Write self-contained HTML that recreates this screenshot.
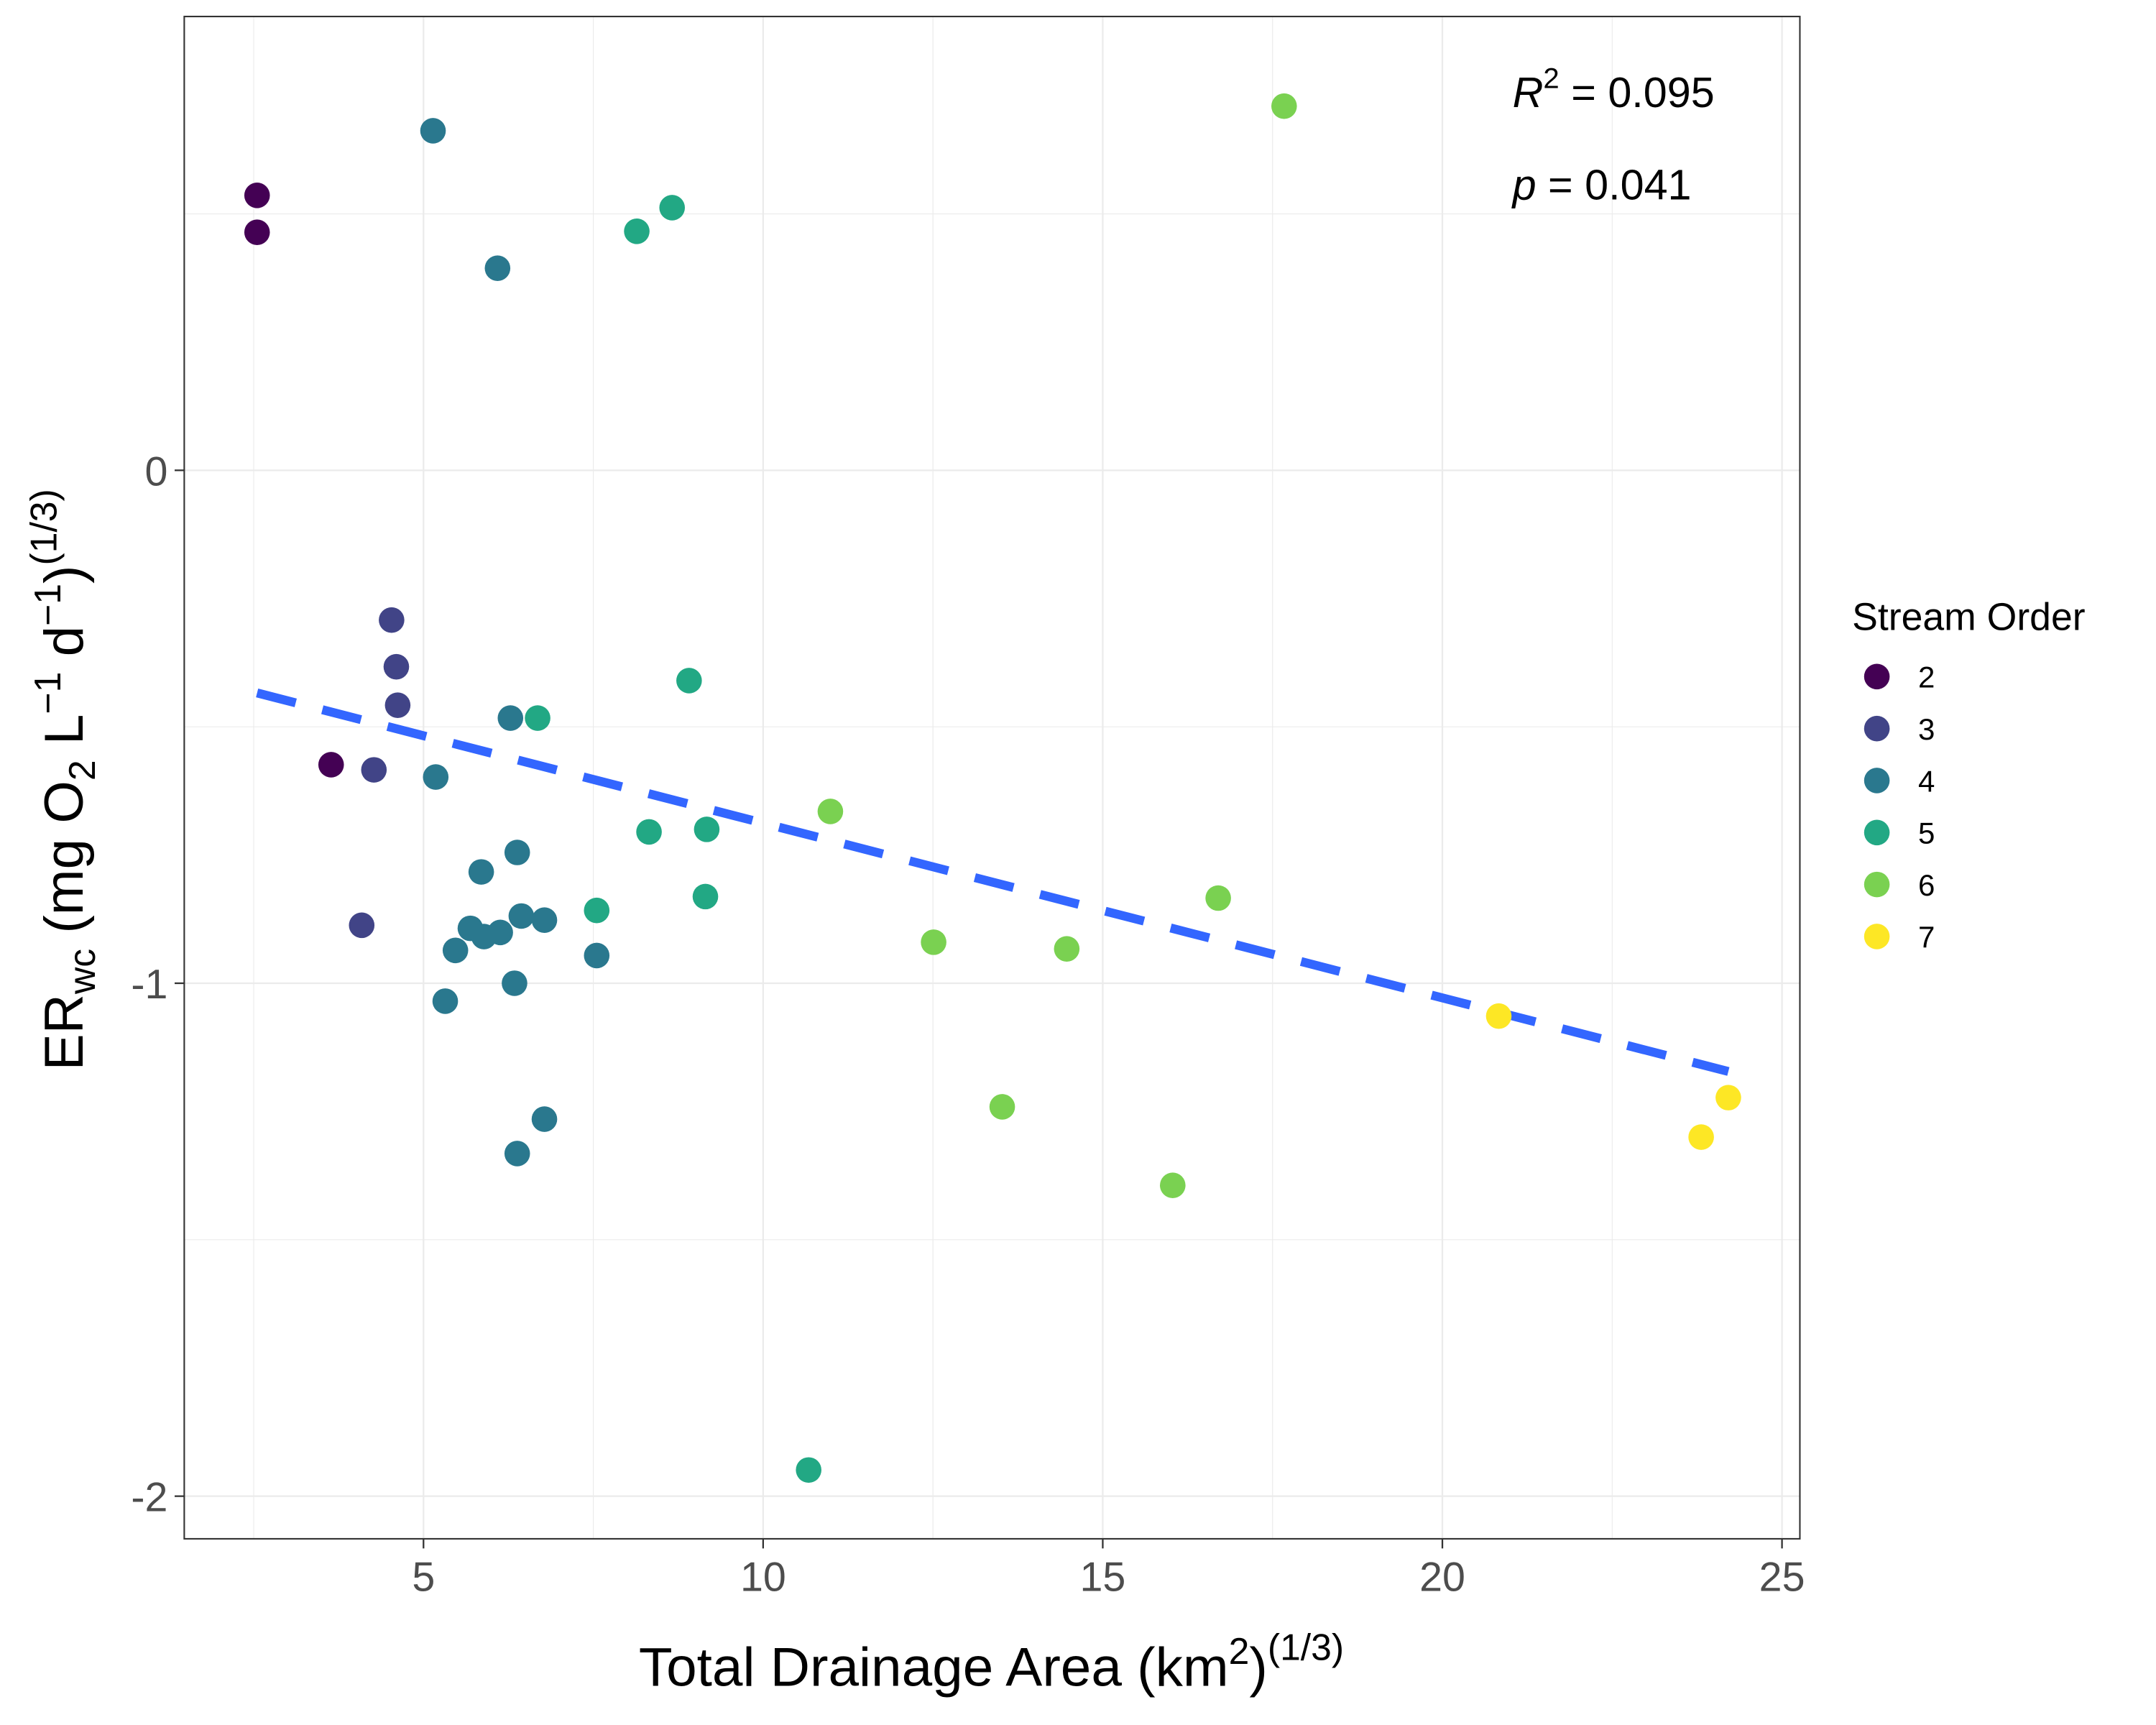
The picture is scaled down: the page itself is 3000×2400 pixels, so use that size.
<!DOCTYPE html>
<html><head><meta charset="utf-8"><style>html,body{margin:0;padding:0;background:#fff}svg{display:block}</style></head>
<body>
<svg id="chart" width="3000" height="2400" viewBox="0 0 1568 1254.4" xmlns="http://www.w3.org/2000/svg" font-family="'Liberation Sans', sans-serif">
<rect width="1568" height="1255" fill="#fff"/>
<g id="grid"></g>
<g id="fit"></g>
<g id="pts"></g>
<rect x="134" y="12" width="1175" height="1107" fill="none" stroke="#333" stroke-width="1.1"/>
<g id="axes"></g>
<text x="1100" y="78" font-size="31"><tspan font-style="italic">R</tspan><tspan dy="-14" font-size="21">2</tspan><tspan dy="14"> = 0.095</tspan></text>
<text x="1100" y="145" font-size="31"><tspan font-style="italic">p</tspan> = 0.041</text>
<text x="721" y="1226" font-size="40" text-anchor="middle">Total Drainage Area (km<tspan dy="-16" font-size="27">2</tspan><tspan dy="16">)</tspan><tspan dy="-19" font-size="27">(1/3)</tspan></text>
<text transform="translate(60,567) rotate(-90)" font-size="40" text-anchor="middle">ER<tspan dy="9" font-size="27">wc</tspan><tspan dy="-9"> (mg O</tspan><tspan dy="9" font-size="27">2</tspan><tspan dy="-9"> L</tspan><tspan dy="-16" font-size="27">−1</tspan><tspan dy="16"> d</tspan><tspan dy="-16" font-size="27">−1</tspan><tspan dy="16">)</tspan><tspan dy="-19" font-size="27">(1/3)</tspan></text>
<g id="legend"></g>
</svg>
<script>
const xTicks=[5,10,15,20,25];
const yTicks=[0,-1,-2];
const xMinor=[2.5,7.5,12.5,17.5,22.5];
const yMinor=[0.5,-0.5,-1.5];
const orders=["2","3","4","5","6","7"];
const colors=["#440154","#414487","#2A788E","#22A884","#7AD151","#FDE725"];
const xs2=[2.55,2.55,3.64];
const ys2=[0.536,0.464,-0.574];
const xs3=[4.53,4.60,4.62,4.27,4.09];
const ys3=[-0.292,-0.383,-0.458,-0.584,-0.887];
const xs4=[5.14,6.09,6.28,5.18,6.38,5.85,5.69,5.89,6.13,6.44,6.78,5.47,6.34,5.32,7.55,6.78,6.38];
const ys4=[0.662,0.394,-0.483,-0.598,-0.745,-0.783,-0.893,-0.909,-0.901,-0.869,-0.877,-0.936,-1.0,-1.035,-0.946,-1.265,-1.332];
const xs5=[8.66,8.14,8.91,6.68,8.32,9.17,9.15,7.55,10.67];
const ys5=[0.512,0.466,-0.410,-0.483,-0.705,-0.700,-0.831,-0.858,-1.949];
const xs6=[17.67,10.99,12.51,14.47,16.70,13.52,16.03];
const ys6=[0.710,-0.665,-0.920,-0.933,-0.834,-1.241,-1.394];
const xs7=[20.83,24.21,23.81];
const ys7=[-1.064,-1.223,-1.300];
const fitX=[2.55,24.21];
const fitY=[-0.434,-1.172];

const NS="http://www.w3.org/2000/svg";
const X=v=>61+49.4*v, Y=v=>342-373*v;
const L=134,R=1309,T=12,B=1119;
function mk(tag,attrs,parent){const e=document.createElementNS(NS,tag);for(const k in attrs)e.setAttribute(k,attrs[k]);parent.appendChild(e);return e;}
const grid=document.getElementById('grid'),axes=document.getElementById('axes');
xMinor.forEach(v=>{const e=mk('line',{x1:X(v),x2:X(v),y1:T,y2:B,stroke:'#EBEBEB','stroke-width':0.6},grid);

});
yMinor.forEach(v=>{const e=mk('line',{x1:L,x2:R,y1:Y(v),y2:Y(v),stroke:'#EBEBEB','stroke-width':0.6},grid);

});
xTicks.forEach(v=>{const e=mk('line',{x1:X(v),x2:X(v),y1:T,y2:B,stroke:'#EBEBEB','stroke-width':1.2},grid);


const t=mk('line',{x1:X(v),x2:X(v),y1:B,y2:B+7,stroke:'#333','stroke-width':1.2},axes);


const l=mk('text',{x:X(v),y:B+38,'font-size':30,fill:'#4D4D4D','text-anchor':'middle'},axes);l.textContent=v;

});
yTicks.forEach(v=>{const e=mk('line',{x1:L,x2:R,y1:Y(v),y2:Y(v),stroke:'#EBEBEB','stroke-width':1.2},grid);


const t=mk('line',{x1:L-7,x2:L,y1:Y(v),y2:Y(v),stroke:'#333','stroke-width':1.2},axes);


const l=mk('text',{x:L-12,y:Y(v)+11,'font-size':30,fill:'#4D4D4D','text-anchor':'end'},axes);l.textContent=v;

});
const fl=mk('line',{x1:X(fitX[0]),y1:Y(fitY[0]),x2:X(fitX[1]),y2:Y(fitY[1]),stroke:'#3366FF','stroke-width':6.5,'stroke-dasharray':'29,20'},document.getElementById('fit'));


const sx=[xs2,xs3,xs4,xs5,xs6,xs7], sy=[ys2,ys3,ys4,ys5,ys6,ys7];
const pts=document.getElementById('pts');
sx.forEach((arr,i)=>arr.forEach((v,j)=>{const c=mk('circle',{cx:X(v),cy:Y(sy[i][j]),r:9.3,fill:colors[i]},pts);

}));
const lg=document.getElementById('legend');
const lt=mk('text',{x:1347,y:458,'font-size':28},lg);lt.textContent='Stream Order';


orders.forEach((o,i)=>{const y=492+37.8*i;
const c=mk('circle',{cx:1365,cy:y,r:9.3,fill:colors[i]},lg);


const t=mk('text',{x:1395,y:y+8,'font-size':22},lg);t.textContent=o;

});
</script>
</body></html>
